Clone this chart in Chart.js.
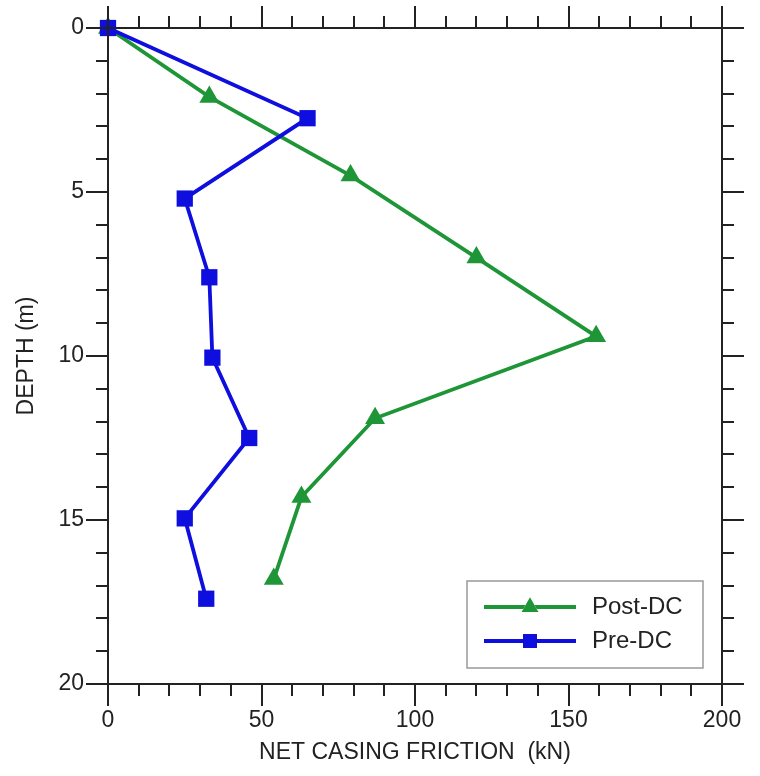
<!DOCTYPE html>
<html>
<head>
<meta charset="utf-8">
<script src="https://cdn.jsdelivr.net/npm/chart.js@4.4.0/dist/chart.umd.min.js"></script>
<style>
  html, body { margin: 0; padding: 0; background: #fff; }
</style>
</head>
<body>
<canvas id="myChart" width="760" height="776"></canvas>
<script>
// values
const postFriction = [0, 33, 79, 120, 159, 87, 63, 54];
const postDepth = [0, 2.1, 4.5, 7.0, 9.4, 11.9, 14.3, 16.8];
const preFriction = [0, 65, 25, 33, 34, 46, 25, 32];
const preDepth = [0, 2.75, 5.2, 7.6, 10.05, 12.5, 14.95, 17.4];
const seriesLabels = ['Post-DC', 'Pre-DC'];
const frictionTicks = [0, 50, 100, 150, 200];
const depthTicks = [0, 5, 10, 15, 20];

const GREEN = 'rgb(30,150,55)';
const BLUE = 'rgb(14,14,222)';
const INK = '#222';
const FONT = '"Liberation Sans", Arial, sans-serif';

function toPoints(xs, ys) {
  return xs.map((x, i) => ({ x: x, y: ys[i] }));
}

// invisible tick marks: they only push the labels away from the axis
const hiddenGrid = {
  display: true,
  drawOnChartArea: false,
  drawTicks: true,
  tickLength: 20,
  color: 'rgba(0,0,0,0)',
};

/**
 * frameTicks
 * box round the plot, with outward ticks on all four sides
 */
const frameTicks = {
  id: 'frameTicks',
  afterDatasetsDraw(chart) {
    const ctx = chart.ctx;
    const a = chart.chartArea;
    const xs = chart.scales.x;
    const ys = chart.scales.y;
    ctx.save();
    ctx.strokeStyle = INK;
    ctx.lineWidth = 2;
    ctx.strokeRect(a.left, a.top, a.right - a.left, a.bottom - a.top);

    ctx.beginPath();
    // friction ticks, every 10 kN, long at each label
    for (let v = xs.min; v <= xs.max; v += 10) {
      const px = Math.round(xs.getPixelForValue(v));
      const len = frictionTicks.includes(v) ? 22 : 12;
      ctx.moveTo(px, a.bottom); ctx.lineTo(px, a.bottom + len);
      ctx.moveTo(px, a.top); ctx.lineTo(px, a.top - len);
    }
    // depth ticks, every 1 m
    for (let v = ys.min; v <= ys.max; v += 1) {
      const py = Math.round(ys.getPixelForValue(v));
      const len = depthTicks.includes(v) ? 22 : 12;
      ctx.moveTo(a.left, py); ctx.lineTo(a.left - len, py);
      ctx.moveTo(a.right, py); ctx.lineTo(a.right + len, py);
    }
    ctx.stroke();
    ctx.restore();
  }
};

/**
 * boxLegend
 * legend in a framed box at the lower right of the plot
 */
const boxLegend = {
  id: 'boxLegend',
  afterDraw(chart) {
    const ctx = chart.ctx;
    const a = chart.chartArea;
    const bx = a.right - 255, by = a.bottom - 103, bw = 236, bh = 87;
    ctx.save();
    ctx.fillStyle = '#fff';
    ctx.fillRect(bx, by, bw, bh);
    ctx.strokeStyle = '#999';
    ctx.lineWidth = 1.5;
    ctx.strokeRect(bx, by, bw, bh);

    chart.data.datasets.forEach((ds, i) => {
      const y = by + 26 + i * 34;
      const x0 = bx + 17, x1 = bx + 109;
      ctx.strokeStyle = ds.borderColor;
      ctx.lineWidth = ds.borderWidth;
      ctx.beginPath();
      ctx.moveTo(x0, y); ctx.lineTo(x1, y);
      ctx.stroke();
      Chart.helpers.drawPoint(ctx, {
        pointStyle: ds.pointStyle,
        radius: ds.pointRadius * 0.85,
        rotation: 0,
        borderWidth: 0
      }, (x0 + x1) / 2, y);
      ctx.fillStyle = ds.pointBackgroundColor;
      ctx.fill();
      ctx.fillStyle = INK;
      ctx.font = '24px ' + FONT;
      ctx.textBaseline = 'middle';
      ctx.fillText(ds.label, bx + 125, y);
    });
    ctx.restore();
  }
};

const ctx = document.getElementById('myChart');
const myChart = new Chart(ctx, {
  type: 'scatter',
  data: {
    datasets: [
      {
        label: seriesLabels[0],
        data: toPoints(postFriction, postDepth),
        showLine: true,
        borderColor: GREEN,
        borderWidth: 3.8,
        pointStyle: 'triangle',
        pointRadius: 11.5,
        pointBackgroundColor: GREEN,
        pointBorderWidth: 0,
        clip: false,
        order: 1,
      },
      {
        label: seriesLabels[1],
        data: toPoints(preFriction, preDepth),
        showLine: true,
        borderColor: BLUE,
        borderWidth: 3.8,
        pointStyle: 'rect',
        pointRadius: 11.5,
        pointBackgroundColor: BLUE,
        pointBorderWidth: 0,
        clip: false,
        order: 0,
      },
    ],
  },
  plugins: [frameTicks, boxLegend],
  options: {
    responsive: false,
    animation: false,
    layout: { padding: { top: 28, right: 38, left: 0, bottom: 0 } },
    plugins: {
      legend: { display: false },
      tooltip: { enabled: false },
    },
    scales: {
      x: {
        type: 'linear',
        position: 'bottom',
        min: 0,
        max: 200,
        afterFit: (s) => { s.height = 92; },
        grid: hiddenGrid,
        border: { display: false },
        ticks: {
          stepSize: 50,
          padding: 3,
          color: INK,
          font: { family: FONT, size: 23 },
        },
        title: {
          display: true,
          text: 'NET CASING FRICTION  (kN)',
          color: INK,
          font: { family: FONT, size: 23 },
          padding: { top: 0, bottom: 10 },
        },
      },
      y: {
        type: 'linear',
        position: 'left',
        reverse: true,
        min: 0,
        max: 20,
        afterFit: (s) => { s.width = 108; },
        grid: hiddenGrid,
        border: { display: false },
        ticks: {
          stepSize: 5,
          padding: 4,
          color: INK,
          font: { family: FONT, size: 23 },
        },
        title: {
          display: true,
          text: 'DEPTH (m)',
          color: INK,
          font: { family: FONT, size: 23 },
          padding: { top: 13, bottom: 0 },
        },
      },
    },
  },
});
</script>
</body>
</html>
